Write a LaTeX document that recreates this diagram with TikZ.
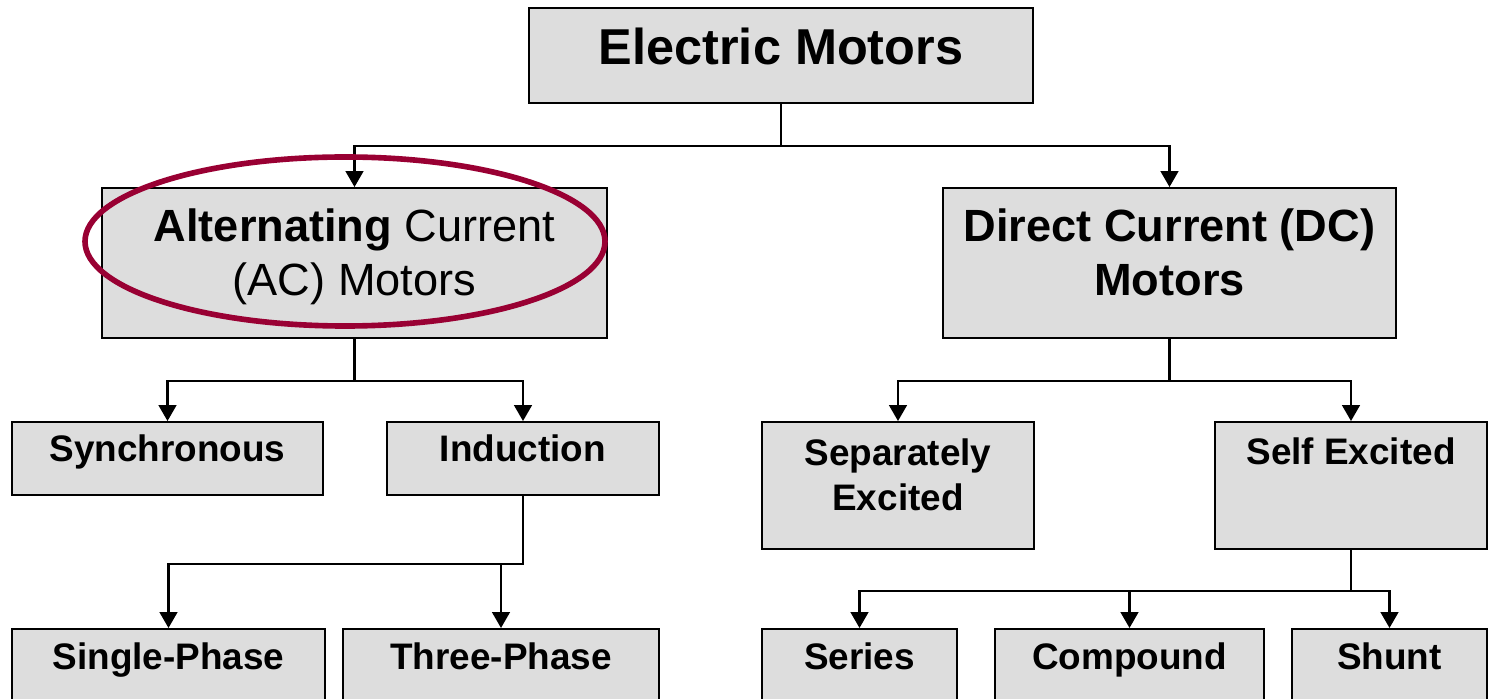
\documentclass[tikz,border=0pt]{standalone}
\usepackage{fontspec}
\setmainfont{Liberation Sans}
\usetikzlibrary{arrows.meta}
\definecolor{boxgray}{HTML}{DDDDDD}
\definecolor{ovalred}{HTML}{990033}
\tikzset{
    tree/.style={font=\fontsize{21}{25.6}\selectfont\bfseries},
    tree box/.style={draw, fill=boxgray, line width=1.1pt, align=center, inner sep=0pt},
    tree arrow/.style={-{Triangle[width=10pt,length=9pt]}, line width=1.3pt},
    tree oval/.style={draw=ovalred, line width=3.2pt},
}
\begin{document}
\begin{tikzpicture}[
    tree,
    top/.style={tree box, font=\fontsize{28.7}{34}\selectfont\bfseries,
        minimum width=10.08cm, minimum height=1.9cm,
        text height=16pt, text depth=5.2pt},
    kind/.style={tree box, font=\fontsize{25.7}{30.8}\selectfont,
        minimum height=3cm},
    sub/.style={tree box, minimum height=1.46cm,
        text height=8pt, text depth=5pt},
    tall/.style={tree box, minimum height=2.54cm},
    leaf/.style={tree box, anchor=north, minimum height=1.5cm,
        text height=8pt, text depth=5pt}
  ]
    \clip (0,0) rectangle (29.78,-13.98);
    \node[top] (em) at (15.62,-1.11) {Electric Motors};
    \node[kind, minimum width=10.1cm] (ac) at (7.09,-5.26)
        {\textbf{Alternating} Current\\(AC) Motors\\[-0.64cm]};
    \node[kind, minimum width=9.06cm, font=\fontsize{25.7}{30.8}\selectfont\bfseries] (dc) at (23.39,-5.26)
        {Direct Current (DC)\\Motors\\[-0.64cm]};

    \node[sub, minimum width=6.22cm] (syn) at (3.35,-9.17) {Synchronous};
    \node[sub, minimum width=5.44cm] (ind) at (10.46,-9.17) {Induction};
    \node[tall, minimum width=5.44cm] (sep) at (17.96,-9.71) {Separately\\Excited\\[-0.46cm]};
    \node[tall, minimum width=5.44cm] (self) at (27.02,-9.71) {Self Excited\\[0.46cm]};

    \node[leaf, minimum width=6.26cm] (single) at (3.37,-12.56) {Single-Phase};
    \node[leaf, minimum width=6.32cm] (three) at (10.02,-12.56) {Three-Phase};
    \node[leaf, minimum width=3.9cm] (series) at (17.19,-12.56) {Series};
    \node[leaf, minimum width=5.38cm] (comp) at (22.59,-12.56) {Compound};
    \node[leaf, minimum width=3.9cm] (shunt) at (27.79,-12.56) {Shunt};

    \draw[tree arrow] (em.south) -- ++(0,-0.84) -| (ac.north);
    \draw[tree arrow] (em.south) -- ++(0,-0.84) -| (dc.north);
    \draw[tree arrow] (ac.south) -- ++(0,-0.84) -| (syn.north);
    \draw[tree arrow] (ac.south) -- ++(0,-0.84) -| (ind.north);
    \draw[tree arrow] (ind.south) -- ++(0,-1.36) -| (single.north);
    \draw[tree arrow] (ind.south) -- ++(0,-1.36) -| (three.north);
    \draw[tree arrow] (dc.south) -- ++(0,-0.84) -| (sep.north);
    \draw[tree arrow] (dc.south) -- ++(0,-0.84) -| (self.north);
    \draw[tree arrow] (self.south) -- ++(0,-0.82) -| (series.north);
    \draw[tree arrow] (self.south) -- ++(0,-0.82) -| (comp.north);
    \draw[tree arrow] (self.south) -- ++(0,-0.82) -| (shunt.north);

    \draw[tree oval] (6.9,-4.83) ellipse [x radius=5.2, y radius=1.69];
  \end{tikzpicture}
\end{document}
